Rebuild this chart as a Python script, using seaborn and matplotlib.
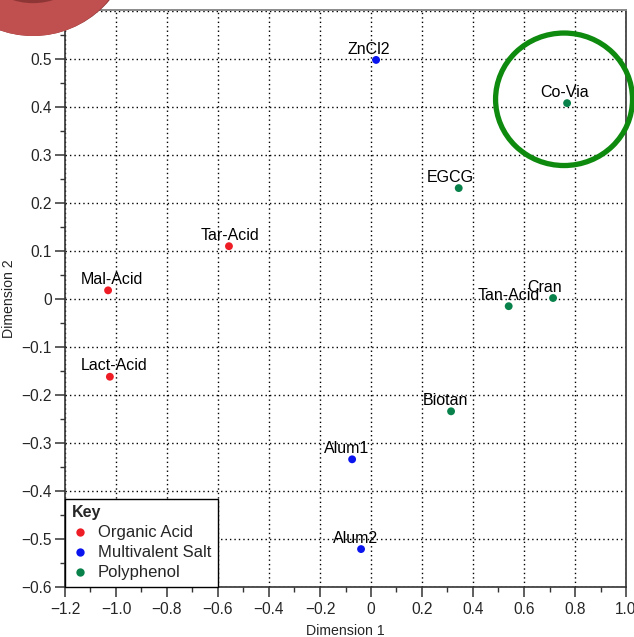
import matplotlib
matplotlib.use("Agg")
import matplotlib.pyplot as plt
import matplotlib.transforms as mtrans
from matplotlib.patches import Circle, Ellipse
from matplotlib.ticker import MultipleLocator, FuncFormatter
from matplotlib.lines import Line2D
import seaborn as sns
import pandas as pd

# ---- data ----
labels = ["ZnCl2", "Co-Via", "EGCG", "Tar-Acid", "Mal-Acid", "Cran", "Tan-Acid",
          "Lact-Acid", "Biotan", "Alum1", "Alum2"]
dim1 = [0.020, 0.769, 0.344, -0.557, -1.031, 0.714, 0.540, -1.024, 0.314, -0.074, -0.039]
dim2 = [0.498, 0.408, 0.231, 0.110, 0.018, 0.002, -0.015, -0.162, -0.234, -0.334, -0.521]
groups = ["Multivalent Salt", "Polyphenol", "Polyphenol", "Organic Acid", "Organic Acid",
          "Polyphenol", "Polyphenol", "Organic Acid", "Polyphenol", "Multivalent Salt",
          "Multivalent Salt"]
group_order = ["Organic Acid", "Multivalent Salt", "Polyphenol"]
group_colors = ["#ee1c24", "#0a14ee", "#08824a"]

# label horizontal nudges (points), styling only
label_dx = {"ZnCl2": -5, "Co-Via": -2, "EGCG": -6, "Tar-Acid": 1, "Mal-Acid": 3,
            "Cran": -6, "Tan-Acid": 0, "Lact-Acid": 3, "Biotan": -4, "Alum1": -4, "Alum2": -4}

df = pd.DataFrame({"label": labels, "Dimension 1": dim1, "Dimension 2": dim2, "group": groups})

sns.set_theme(style="white")
plt.rcParams["font.family"] = ["Liberation Sans", "DejaVu Sans"]
plt.rcParams["axes.unicode_minus"] = True

W, H = 634, 637
fig = plt.figure(figsize=(W / 100, H / 100), dpi=100)
ax = fig.add_axes([65 / W, (H - 587) / H, (626 - 65) / W, (587 - 10) / H])

palette = dict(zip(group_order, group_colors))
sns.scatterplot(data=df, x="Dimension 1", y="Dimension 2", hue="group",
                hue_order=group_order, palette=palette, s=32, edgecolor="none",
                ax=ax, legend=False, zorder=3)

for lab, x, y in zip(labels, dim1, dim2):
    ax.annotate(lab, (x, y), xytext=(label_dx.get(lab, 0), 4.6), textcoords="offset points",
                ha="center", va="baseline", fontsize=11.5, color="black", zorder=4)

ax.set_xlim(-1.2, 1.0)
ax.set_ylim(-0.6, 0.602)
ax.xaxis.set_major_locator(MultipleLocator(0.2))
ax.xaxis.set_minor_locator(MultipleLocator(0.1))
ax.yaxis.set_major_locator(MultipleLocator(0.1))
ax.yaxis.set_minor_locator(MultipleLocator(0.05))


def fmt(v, pos):
    if abs(v) < 1e-9:
        return "0"
    s = f"{abs(v):.1f}"
    return ("\u2212" + s) if v < 0 else s


ax.xaxis.set_major_formatter(FuncFormatter(fmt))
ax.yaxis.set_major_formatter(FuncFormatter(fmt))

ax.tick_params(which="major", direction="out", length=7.5, width=1.1, color="#333333",
               labelsize=11.2, pad=2, bottom=True, left=True, top=False, right=False)
ax.tick_params(axis="x", which="major", pad=3.5)
ax.tick_params(which="minor", direction="out", length=3.5, width=1.0, color="#333333",
               bottom=True, left=True, top=False, right=False)

ax.grid(True, which="major", color="black", linestyle=(0, (1, 2.2)), linewidth=1.0)
ax.set_axisbelow(True)

for side in ["left", "bottom", "right"]:
    ax.spines[side].set_color("#333333")
    ax.spines[side].set_linewidth(1.2)
ax.spines["top"].set_color("#8a8a8a")
ax.spines["top"].set_linewidth(1.4)

ax.set_xlabel("Dimension 1", fontsize=10.2, labelpad=5)
ax.set_ylabel("Dimension 2", fontsize=10.2, labelpad=4)

handles = [Line2D([], [], marker="o", linestyle="none", markersize=6,
                  markerfacecolor=c, markeredgecolor="none") for c in group_colors]
leg = ax.legend(handles, group_order, title="Key", loc="lower left",
                bbox_to_anchor=(0, 0), borderaxespad=0, fontsize=12,
                title_fontproperties={"weight": "bold", "size": 11.5},
                alignment="left", fancybox=False, framealpha=1, edgecolor="black",
                handlelength=1.0, handletextpad=0.55, labelspacing=0.3,
                borderpad=0.4)
leg.get_frame().set_linewidth(1.0)
leg.set_zorder(5)

# green highlight ring around Co-Via
ci = labels.index("Co-Via")
ring = Ellipse((dim1[ci] - 0.012, dim2[ci] + 0.008), width=0.537, height=0.276,
               fill=False, edgecolor="#0e8a0e", linewidth=3.8, clip_on=False, zorder=6)
ax.add_patch(ring)

# red badge at the top-left corner (pixel coordinates)
ident = mtrans.IdentityTransform()
cx, cy = 33, H + 64
fig.add_artist(Circle((cx, cy), 100, transform=ident, facecolor="#8e3636",
                      edgecolor="none", zorder=20))
fig.add_artist(Circle((cx, cy - 2.5), 97.5, transform=ident, facecolor="#c0504f",
                      edgecolor="none", zorder=21))
fig.add_artist(Circle((cx, cy), 65.5, transform=ident, fill=False,
                      edgecolor="#8e3636", linewidth=2.4, zorder=22))

fig.savefig("out.png", dpi=100)
